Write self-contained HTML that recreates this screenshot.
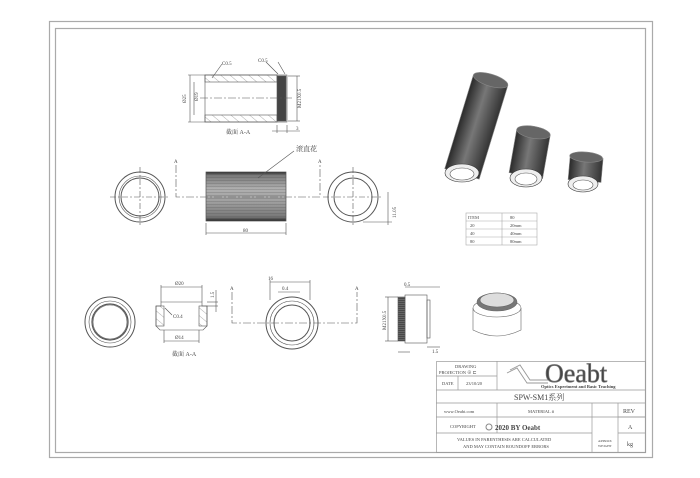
<!DOCTYPE html>
<html><head><meta charset="utf-8"><style>
html,body{margin:0;padding:0;background:#fff;}
svg{display:block;}
text{font-family:"Liberation Serif","Noto Serif CJK SC",serif;fill:#444;}
</style></head><body>
<svg width="700" height="478" viewBox="0 0 700 478" xmlns="http://www.w3.org/2000/svg">
<defs>
<pattern id="hatch" width="6" height="6" patternUnits="userSpaceOnUse" patternTransform="rotate(-50)">
<line x1="0" y1="0" x2="0" y2="6" stroke="#777" stroke-width="0.6"/></pattern>
<pattern id="knurl" width="4" height="2" patternUnits="userSpaceOnUse">
<rect width="4" height="2" fill="#666"/><line x1="0" y1="0.5" x2="4" y2="0.5" stroke="#333" stroke-width="0.6"/></pattern>
<pattern id="stripes" width="4" height="3" patternUnits="userSpaceOnUse">
<line x1="0" y1="0.5" x2="4" y2="0.5" stroke="#444" stroke-width="0.4"/></pattern>
<linearGradient id="tube" x1="0" y1="0" x2="1" y2="0">
<stop offset="0" stop-color="#2a2a2a"/><stop offset="0.45" stop-color="#777"/><stop offset="1" stop-color="#333"/></linearGradient>
<linearGradient id="cyl" x1="0" y1="0" x2="0" y2="1">
<stop offset="0" stop-color="#222"/><stop offset="0.06" stop-color="#777"/><stop offset="0.35" stop-color="#b0b0b0"/><stop offset="0.6" stop-color="#a0a0a0"/><stop offset="0.92" stop-color="#777"/><stop offset="1" stop-color="#222"/></linearGradient>
</defs>
<g fill="none" stroke="#aaa" stroke-width="1.2">
<rect x="49.5" y="21.5" width="603" height="436"/>
<rect x="55.5" y="28.5" width="590" height="424"/>
</g>

<!-- Top section view -->
<g stroke="#555" stroke-width="0.6" fill="none">
<rect x="205" y="75" width="82" height="47" fill="#fff"/>
<rect x="205" y="75" width="72" height="7" fill="url(#hatch)"/>
<rect x="205" y="115" width="72" height="7" fill="url(#hatch)"/>
<rect x="277" y="76" width="9" height="45" fill="#444"/>
<line x1="200" y1="98" x2="292" y2="98" stroke-dasharray="8,2,2,2"/>
<line x1="188" y1="75" x2="205" y2="75"/><line x1="188" y1="122" x2="205" y2="122"/>
<line x1="190" y1="75" x2="190" y2="122"/>
<line x1="194" y1="82" x2="194" y2="115"/>
<line x1="288" y1="76" x2="300" y2="76"/><line x1="288" y1="121" x2="300" y2="121"/>
<line x1="297" y1="76" x2="297" y2="121"/>
<line x1="277" y1="125" x2="277" y2="133"/><line x1="287" y1="125" x2="287" y2="133"/>
<line x1="272" y1="131" x2="300" y2="131"/>
<line x1="212" y1="78" x2="222" y2="64"/><line x1="278" y1="74" x2="266" y2="62"/><line x1="285" y1="74" x2="278" y2="62"/>
</g>
<g font-size="5">
<text x="222" y="65">C0.5</text><text x="258" y="62">C0.5</text>
<text x="186" y="103" transform="rotate(-90 186 103)">Ø25</text>
<text x="198" y="101" transform="rotate(-90 198 101)">Ø19</text>
<text x="301" y="108" transform="rotate(-90 301 108)">M21X0.5</text>
<text x="296" y="130">3</text>
<text x="226" y="134" font-size="6">截面 A-A</text>
</g>

<!-- Middle row -->
<g stroke="#555" stroke-width="0.6" fill="none">
<circle cx="140" cy="197" r="25" stroke-width="1"/><circle cx="140" cy="197" r="21"/><circle cx="140" cy="197" r="19" stroke-width="1"/>
<line x1="110" y1="197" x2="170" y2="197" stroke-dasharray="6,2,2,2"/><line x1="140" y1="167" x2="140" y2="227" stroke-dasharray="6,2,2,2"/>
<rect x="206" y="172" width="80" height="49" fill="url(#cyl)"/>
<rect x="206" y="172" width="80" height="49" fill="url(#stripes)" opacity="0.5"/>
<polyline points="176,165 176,197 320,197 320,165" stroke-dasharray="8,2,2,2"/>
<line x1="206" y1="223" x2="206" y2="235"/><line x1="286" y1="223" x2="286" y2="235"/><line x1="206" y1="233" x2="286" y2="233"/>
<line x1="258" y1="178" x2="294" y2="151"/>
<circle cx="353" cy="197" r="25" stroke-width="1"/><circle cx="353" cy="197" r="19" stroke-width="1"/>
<line x1="323" y1="197" x2="383" y2="197" stroke-dasharray="6,2,2,2"/><line x1="353" y1="167" x2="353" y2="227" stroke-dasharray="6,2,2,2"/>
<line x1="363" y1="222" x2="392" y2="222"/><line x1="388" y1="192" x2="388" y2="225"/>
</g>
<g font-size="5"><text x="174" y="163">A</text><text x="318" y="163">A</text><text x="243" y="232">80</text>
<text x="396" y="218" transform="rotate(-90 396 218)">11.05</text>
<text x="296" y="151" font-size="7">滚直花</text></g>

<!-- Isometric tubes -->
<g stroke="#888" stroke-width="0.6">
<g transform="rotate(17 476 128)"><rect x="458" y="78" width="36" height="98" fill="url(#tube)"/><ellipse cx="476" cy="78" rx="18" ry="6" fill="#666"/></g>
<ellipse cx="462" cy="173" rx="17" ry="9" fill="#eee" stroke="#333"/><ellipse cx="462" cy="174" rx="12" ry="6" fill="#fff" stroke="#555"/>
<g transform="rotate(10 530 152)"><rect x="513" y="132" width="34" height="44" fill="url(#tube)"/><ellipse cx="530" cy="132" rx="17" ry="6" fill="#666"/></g>
<ellipse cx="526" cy="178" rx="16" ry="9" fill="#eee" stroke="#333"/><ellipse cx="526" cy="179" rx="11" ry="6" fill="#fff" stroke="#555"/>
<g transform="rotate(5 585 170)"><rect x="569" y="157" width="33" height="24" fill="url(#tube)"/><ellipse cx="585" cy="157" rx="16.5" ry="5" fill="#666"/></g>
<ellipse cx="583" cy="184" rx="15" ry="8" fill="#eee" stroke="#333"/><ellipse cx="583" cy="185" rx="10" ry="5" fill="#fff" stroke="#555"/>
</g>

<!-- table -->
<g stroke="#aaa" stroke-width="0.6" fill="none">
<rect x="466" y="213" width="71" height="32"/>
<line x1="502" y1="213" x2="502" y2="245"/>
<line x1="466" y1="221" x2="537" y2="221"/><line x1="466" y1="229" x2="537" y2="229"/><line x1="466" y1="237" x2="537" y2="237"/>
</g>
<g font-size="4.5"><text x="468" y="219">ITEM</text><text x="510" y="219">80</text>
<text x="470" y="227">20</text><text x="510" y="227">20mm</text>
<text x="470" y="235">40</text><text x="510" y="235">40mm</text>
<text x="470" y="243">80</text><text x="510" y="243">80mm</text></g>

<!-- bottom row -->
<g stroke="#555" stroke-width="0.6" fill="none">
<circle cx="110" cy="322" r="25" stroke-width="1"/><circle cx="110" cy="322" r="21"/><circle cx="110" cy="322" r="18" stroke-width="1.2"/><circle cx="110" cy="322" r="17"/>
<path d="M161 302 H202 V306 H207 V326 L203 330 H160 L156 326 V306 H161 Z" fill="#fff"/>
<rect x="156" y="306" width="8" height="20" fill="url(#hatch)"/><rect x="199" y="306" width="8" height="20" fill="url(#hatch)"/>
<line x1="161" y1="302" x2="161" y2="285"/><line x1="202" y1="302" x2="202" y2="285"/><line x1="161" y1="287" x2="202" y2="287"/>
<line x1="164" y1="330" x2="164" y2="343"/><line x1="199" y1="330" x2="199" y2="343"/><line x1="164" y1="341" x2="199" y2="341"/>
<line x1="207" y1="302" x2="218" y2="302"/><line x1="207" y1="306" x2="218" y2="306"/><line x1="216" y1="290" x2="216" y2="312"/>
<line x1="165" y1="308" x2="172" y2="315"/>
<circle cx="292" cy="323" r="26" stroke-width="1"/><circle cx="292" cy="323" r="22"/><circle cx="292" cy="323" r="18" stroke-width="1"/>
<polyline points="232,292 232,323 357,323 357,292" stroke-dasharray="8,2,2,2"/>
<line x1="270" y1="282" x2="310" y2="282"/><line x1="270" y1="280" x2="270" y2="300"/><line x1="310" y1="280" x2="310" y2="300"/>
<line x1="278" y1="292" x2="300" y2="292"/>
<rect x="405" y="295" width="22" height="48" fill="#fff"/><rect x="398" y="297" width="7" height="44" fill="url(#knurl)"/>
<rect x="427" y="300" width="3" height="38"/>
<line x1="385" y1="297" x2="398" y2="297"/><line x1="385" y1="341" x2="398" y2="341"/><line x1="388" y1="297" x2="388" y2="341"/>
<line x1="405" y1="287" x2="440" y2="287"/><line x1="427" y1="347" x2="440" y2="347"/><line x1="398" y1="352" x2="410" y2="352"/>
</g>
<g font-size="5"><text x="175" y="285">Ø20</text><text x="175" y="339">Ø14</text><text x="173" y="318">C0.4</text>
<text x="214" y="298" transform="rotate(-90 214 298)">1.5</text><text x="172" y="356" font-size="6">截面 A-A</text>
<text x="268" y="280">16</text><text x="282" y="290">0.4</text><text x="230" y="290">A</text><text x="355" y="290">A</text>
<text x="386" y="330" transform="rotate(-90 386 330)">M21X0.5</text><text x="404" y="286">0.5</text><text x="432" y="353">1.5</text></g>
<g stroke="#666" stroke-width="0.6">
<path d="M473 308 V330 Q497 342 521 330 V308" fill="#fff"/>
<ellipse cx="497" cy="308" rx="24" ry="9" fill="#fff"/>
<ellipse cx="497" cy="302" rx="20" ry="9" fill="#777"/>
<ellipse cx="497" cy="300" rx="17" ry="7" fill="#ddd"/>
</g>

<!-- title block -->
<g stroke="#999" stroke-width="0.7" fill="none">
<rect x="436.5" y="361.5" width="209" height="91"/>
<line x1="436" y1="376" x2="497" y2="376"/>
<line x1="436" y1="390" x2="645" y2="390"/>
<line x1="436" y1="403" x2="645" y2="403"/>
<line x1="436" y1="417" x2="645" y2="417"/>
<line x1="436" y1="433" x2="592" y2="433"/><line x1="618" y1="417" x2="645" y2="417"/>
<line x1="618" y1="433" x2="645" y2="433"/>
<line x1="458" y1="376" x2="458" y2="390"/>
<line x1="497" y1="361" x2="497" y2="390"/>
<line x1="497" y1="403" x2="497" y2="433"/>
<line x1="592" y1="403" x2="592" y2="452"/><line x1="618" y1="403" x2="618" y2="452"/>
</g>
<g font-family="Liberation Mono" font-size="4.5">
<text x="455" y="368">DRAWING</text><text x="439" y="374">PROJECTION ⊕ ⊏</text>
<text x="442" y="385">DATE</text><text x="466" y="385">23/10/20</text>
<text x="444" y="413">www.Oeabt.com</text><text x="528" y="413">MATERIAL #</text>
<text x="450" y="428">COPYRIGHT</text>
<text x="457" y="441">VALUES IN PARENTHESIS ARE CALCULATED</text>
<text x="463" y="448">AND MAY CONTAIN ROUNDOFF ERRORS</text>
<text x="598" y="442" font-size="3.5">APPROX</text><text x="598" y="447" font-size="3.5">WEIGHT</text>
</g>
<text x="514" y="400" font-size="8">SPW-SM1系列</text>
<text x="623" y="413" font-size="6">REV</text><text x="628" y="429" font-size="6">A</text><text x="627" y="446" font-size="6">kg</text>
<circle cx="489" cy="427" r="3" fill="none" stroke="#888"/><text x="495" y="430" font-size="7" font-weight="bold" fill="#333">2020 BY Oeabt</text>
<g stroke="#999" fill="none" stroke-width="0.9">
<path d="M510 370 L520 365 L530 380 L548 380"/><path d="M507 373 L517 368 L527 383 L548 383"/>
</g>
<text x="545" y="382" font-family="Liberation Sans" font-size="26" fill="#fff" stroke="#777" stroke-width="0.7">Oeabt</text>
<text x="541" y="388" font-family="Liberation Sans" font-size="4.5" font-weight="bold" fill="#444">Optics Experiment and Basic Teaching</text>
</svg>
</body></html>
